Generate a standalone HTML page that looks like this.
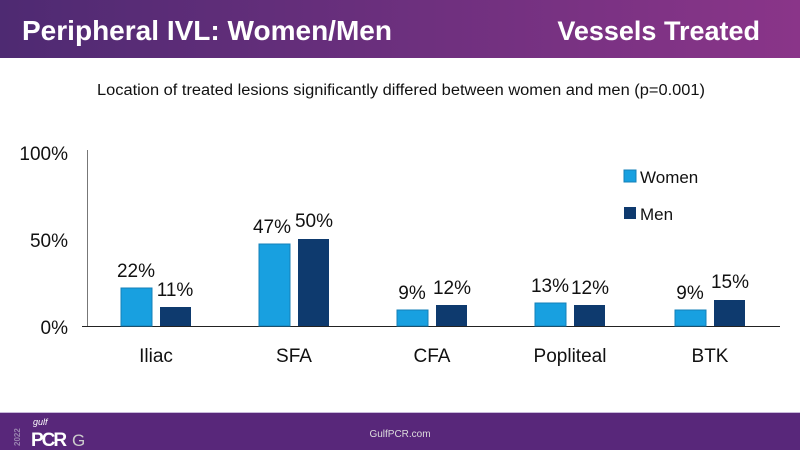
<!DOCTYPE html>
<html><head><meta charset="utf-8"><style>
body{margin:0;width:800px;height:450px;overflow:hidden;background:#fff;font-family:"Liberation Sans",sans-serif}
</style></head><body>
<svg width="800" height="450" xmlns="http://www.w3.org/2000/svg" font-family="Liberation Sans, sans-serif">
<defs><linearGradient id="g" x1="0" x2="1"><stop offset="0" stop-color="#4e2a72"/><stop offset="1" stop-color="#8a3589"/></linearGradient></defs>
<rect x="0" y="0" width="800" height="58" fill="url(#g)"/>
<text x="22" y="40" fill="#fff" font-size="27.5" font-weight="bold" textLength="370" lengthAdjust="spacingAndGlyphs">Peripheral IVL: Women/Men</text>
<text x="760" y="40" fill="#fff" font-size="27" font-weight="bold" text-anchor="end">Vessels Treated</text>
<text x="97" y="95" font-size="15.5" fill="#111" textLength="608" lengthAdjust="spacingAndGlyphs">Location of treated lesions significantly differed between women and men (p=0.001)</text>
<line x1="87.5" y1="150" x2="87.5" y2="326" stroke="#777" stroke-width="1"/>
<line x1="82" y1="326.5" x2="780" y2="326.5" stroke="#222" stroke-width="1"/>
<g font-size="19" fill="#111" text-anchor="end">
<text x="68" y="160">100%</text><text x="68" y="247">50%</text><text x="68" y="334">0%</text>
</g>
<g font-size="19" fill="#111" text-anchor="middle">
<rect x="121" y="288" width="31" height="38" fill="#18a0e0" stroke="#1580b8"/><rect x="160" y="307" width="31" height="19" fill="#0e3a6e"/>
<text x="136" y="277">22%</text><text x="175" y="296">11%</text>
<rect x="259" y="244" width="31" height="82" fill="#18a0e0" stroke="#1580b8"/><rect x="298" y="239" width="31" height="87" fill="#0e3a6e"/>
<text x="272" y="233">47%</text><text x="314" y="227">50%</text>
<rect x="397" y="310" width="31" height="16" fill="#18a0e0" stroke="#1580b8"/><rect x="436" y="305" width="31" height="21" fill="#0e3a6e"/>
<text x="412" y="299">9%</text><text x="452" y="294">12%</text>
<rect x="535" y="303" width="31" height="23" fill="#18a0e0" stroke="#1580b8"/><rect x="574" y="305" width="31" height="21" fill="#0e3a6e"/>
<text x="550" y="292">13%</text><text x="590" y="294">12%</text>
<rect x="675" y="310" width="31" height="16" fill="#18a0e0" stroke="#1580b8"/><rect x="714" y="300" width="31" height="26" fill="#0e3a6e"/>
<text x="690" y="299">9%</text><text x="730" y="288">15%</text>
<text x="156" y="362">Iliac</text><text x="294" y="362">SFA</text><text x="432" y="362">CFA</text><text x="570" y="362">Popliteal</text><text x="710" y="362">BTK</text>
</g>
<rect x="624" y="170" width="12" height="12" fill="#18a0e0" stroke="#1580b8"/>
<text x="640" y="183" font-size="17" fill="#111">Women</text>
<rect x="624" y="207" width="12" height="12" fill="#0e3a6e"/>
<text x="640" y="220" font-size="17" fill="#111">Men</text>
<rect x="0" y="412" width="800" height="1.5" fill="#c8b8da"/>
<rect x="0" y="413" width="800" height="37" fill="#58277a"/>
<text x="400" y="437" font-size="10" fill="#ddd" text-anchor="middle">GulfPCR.com</text>
<text x="20" y="446" font-size="8" fill="#9a84b0" font-weight="bold" transform="rotate(-90 20 446)">2022</text>
<text x="33" y="425" font-size="9" fill="#fff" font-style="italic">gulf</text>
<text x="31" y="446" font-size="19" fill="#fff" font-weight="bold" letter-spacing="-2">PCR</text>
<text x="72" y="446" font-size="17" fill="#ccc">G</text>
</svg>
</body></html>
